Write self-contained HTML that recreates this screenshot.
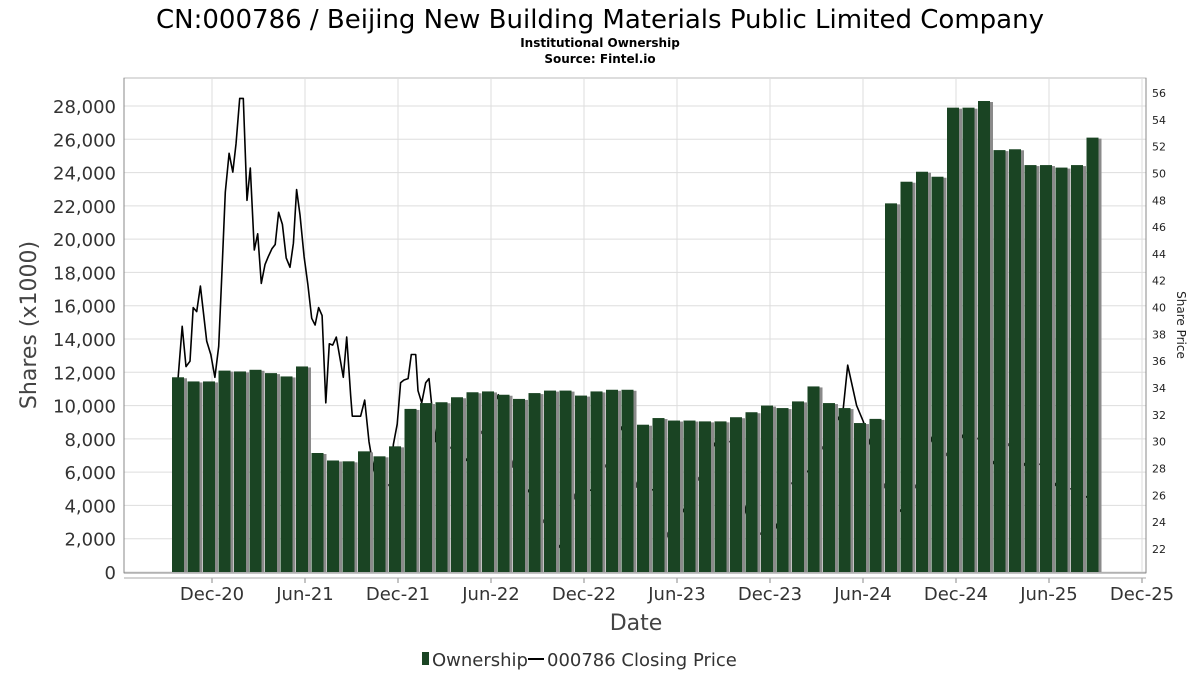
<!DOCTYPE html>
<html><head><meta charset="utf-8"><style>
body{margin:0;background:#fff;font-family:"Liberation Sans","DejaVu Sans",sans-serif;}
svg text{font-family:"DejaVu Sans","Liberation Sans",sans-serif;}
</style></head><body>
<svg id="chart" width="1200" height="675" xmlns="http://www.w3.org/2000/svg">
<text x="600" y="28" text-anchor="middle" font-size="26" fill="#000">CN:000786 / Beijing New Building Materials Public Limited Company</text>
<text x="600" y="47" text-anchor="middle" font-size="12" font-weight="bold">Institutional Ownership</text>
<text x="600" y="63" text-anchor="middle" font-size="12" font-weight="bold">Source: Fintel.io</text>
<g id="grid"></g>
<g id="line"></g>
<g id="bars"></g>
<g id="axes"></g>
<text transform="translate(36,325) rotate(-90)" text-anchor="middle" font-size="22" fill="#444">Shares (x1000)</text>
<text transform="translate(1177,325) rotate(90)" text-anchor="middle" font-size="12" fill="#222">Share Price</text>
<text x="636" y="630" text-anchor="middle" font-size="22" fill="#444">Date</text>
<g>
<rect x="422" y="652" width="7" height="13" fill="#1a4423"></rect>
<text x="432" y="666" font-size="18" fill="#333">Ownership</text>
<line x1="528" y1="659" x2="544" y2="659" stroke="#000" stroke-width="2"></line>
<text x="547" y="666" font-size="18" fill="#333">000786 Closing Price</text>
</g>
</svg>
<script>
const barMonths=[-2,-1,0,1,2,3,4,5,6,7,8,9,10,11,12,13,14,15,16,17,18,19,20,21,22,23,24,25,26,27,28,29,30,31,32,33,34,35,36,37,38,39,40,41,42,43,44,45,46,47,48,49,50,51,52,53,54,55,56,57];
const shares=[11700,11450,11450,12100,12050,12150,11950,11750,12350,7150,6700,6650,7250,6950,7550,9800,10150,10200,10500,10800,10850,10650,10400,10750,10900,10900,10600,10850,10950,10950,8850,9250,9100,9100,9050,9050,9300,9600,10000,9850,10250,11150,10150,9850,8950,9200,22150,23450,24050,23750,27900,27900,28300,25350,25400,24450,24450,24300,24450,26100];
const priceMonths=[-2.19,-1.92,-1.68,-1.42,-1.21,-0.99,-0.75,-0.34,-0.08,0.19,0.43,0.63,0.86,1.10,1.34,1.55,1.79,2.02,2.26,2.47,2.73,2.95,3.18,3.42,3.63,3.87,4.08,4.30,4.54,4.79,5.03,5.25,5.46,5.68,5.94,6.19,6.43,6.65,6.88,7.10,7.34,7.57,7.79,8.02,8.47,8.69,8.95,9.05,9.59,9.85,10.13,10.45,11.46,11.70,11.95,12.17,12.39,12.65,12.86,13.14,13.29,13.53,13.79,14.00,14.21,14.43,15.35,16.39,17.50,18.47,19.44,20.47,21.48,22.45,23.48,24.50,25.46,26.43,27.44,28.47,29.50,30.41,31.48,32.52,33.46,34.50,36.0,37.29,38.65,39.87,40.73,41.01,41.59,42.02,42.45,43.53,44.56,45.46,46.58,47.61,48.58,49.59,50.52,51.53,52.56,53.63,54.6,55.57,56.65];
const prices=[34.75,38.6,35.6,36.0,40.0,39.7,41.6,37.5,36.5,34.8,37.1,42.4,48.6,51.5,50.1,52.2,55.6,55.6,48.0,50.4,44.3,45.5,41.8,43.2,43.8,44.4,44.7,47.1,46.2,43.7,43.0,44.8,48.8,46.9,43.8,41.7,39.2,38.7,40.0,39.4,32.9,37.3,37.2,37.8,34.8,37.8,33.4,31.9,31.9,33.1,30.0,27.8,26.7,29.8,31.3,34.4,34.6,34.7,36.5,36.5,33.8,32.9,34.4,34.7,32.3,30.0,29.6,28.6,30.9,33.5,28.1,26.2,23.9,22.1,26.2,26.4,28.3,31.1,26.6,26.4,22.7,24.9,27.4,30.1,30.0,24.4,22.3,26.8,28.0,30.5,32.5,35.7,32.7,31.5,29.8,26.3,24.6,26.8,30.8,28.6,30.8,30.1,28.2,30.0,28.0,28.4,26.4,26.5,25.7];
const yTicks=[0,2000,4000,6000,8000,10000,12000,14000,16000,18000,20000,22000,24000,26000,28000];
const rTicks=[22,24,26,28,30,32,34,36,38,40,42,44,46,48,50,52,54,56];
const xTickMonths=[0,6,12,18,24,30,36,42,48,54,60];
const xTickLabels=["Dec-20","Jun-21","Dec-21","Jun-22","Dec-22","Jun-23","Dec-23","Jun-24","Dec-24","Jun-25","Dec-25"];

const NS="http://www.w3.org/2000/svg";
const L=124,R=1146,T=78,B=573;
function x(m){return 212+m*15.5;}
function yL(v){return 572-v*466/28000;}
function yR(p){return 93+(56-p)*13.41;}
function mk(tag,attrs,parent){const e=document.createElementNS(NS,tag);for(const k in attrs)e.setAttribute(k,attrs[k]);parent.appendChild(e);return e;}
const grid=document.getElementById('grid'),axes=document.getElementById('axes'),bars=document.getElementById('bars'),lineG=document.getElementById('line');

const bg=mk('rect',{x:L,y:T,width:R-L,height:B-T,fill:'#fff',stroke:'#bbb'},grid);


yTicks.forEach(v=>{
  const g=mk('line',{x1:L,x2:R,y1:yL(v),y2:yL(v),stroke:'#ddd','stroke-width':1},grid);
  
  
  const t=mk('text',{x:116,y:yL(v)+7,'text-anchor':'end','font-size':18,fill:'#333'},axes);
  t.textContent=v.toLocaleString('en-US');
  
  
});
xTickMonths.forEach((m,i)=>{
  const g=mk('line',{x1:x(m),x2:x(m),y1:T,y2:B,stroke:'#ddd','stroke-width':1},grid);
  
  
  const tk=mk('line',{x1:x(m),x2:x(m),y1:578,y2:583,stroke:'#888'},axes);
  
  
  const t=mk('text',{x:x(m),y:600,'text-anchor':'middle','font-size':18,fill:'#333'},axes);
  t.textContent=xTickLabels[i];
  
  
});
rTicks.forEach(p=>{
  const t=mk('text',{x:1152,y:yR(p)+4,'font-size':11,fill:'#222'},axes);
  t.textContent=p;
  
  
});
const ax1=mk('line',{x1:L,x2:L,y1:T,y2:B,stroke:'#888'},axes);


const ax2=mk('line',{x1:L,x2:R,y1:B,y2:B,stroke:'#888'},axes);


const ax3=mk('line',{x1:L,x2:R,y1:578,y2:578,stroke:'#aaa'},axes);


const ax4=mk('line',{x1:R,x2:R,y1:T,y2:B,stroke:'#888'},axes);



const pts=priceMonths.map((m,i)=>x(m).toFixed(1)+','+yR(prices[i]).toFixed(1)).join(' ');
const pl=mk('polyline',{points:pts,fill:'none',stroke:'#000','stroke-width':1.6,'stroke-linejoin':'round'},lineG);



barMonths.forEach((m,i)=>{
  const top=yL(shares[i]);
  const s=mk('rect',{x:x(m)-6,y:top+1,width:12,height:572-top-1,fill:'#8a8a8a'},bars);
  
  
  const b=mk('rect',{x:x(m)-9,y:top,width:12,height:572-top,fill:'#1a4423'},bars);
  
  
});
</script>
</body></html>
